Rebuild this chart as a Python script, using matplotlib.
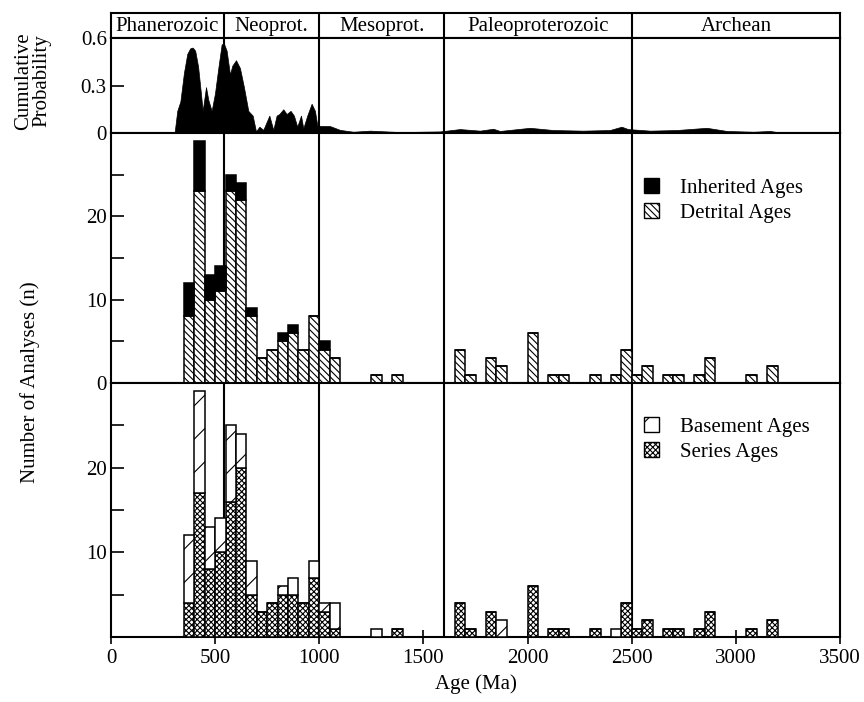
import numpy as np
import matplotlib
matplotlib.use("Agg")
import matplotlib.pyplot as plt
from matplotlib.patches import Patch

plt.rcParams['font.family'] = ['Liberation Serif', 'DejaVu Serif']
plt.rcParams['font.size'] = 15
plt.rcParams['hatch.linewidth'] = 0.8

## era bands ##
era_edges = [0, 541, 1000, 1600, 2500, 3500]
era_names = ["Phanerozoic", "Neoprot.", "Mesoprot.", "Paleoproterozoic", "Archean"]

## cumulative probability curve ##
cum_age = [0, 305, 318, 333, 350, 366, 380, 392, 404, 418, 430, 440, 456, 467, 483, 499, 515,
           531, 542, 555, 571, 582, 600, 619, 638, 659, 680, 696, 712, 731, 760, 779,
           795, 808, 827, 843, 862, 878, 894, 912, 923, 942, 963, 979, 990, 1003, 1051,
           1099, 1163, 1243, 1387, 1579, 1675, 1771, 1835, 1867, 2011, 2122, 2266, 2395,
           2451, 2482, 2588, 2716, 2860, 2956, 3084, 3164, 3228, 3500]
cum_prob = [0, 0, 0.14, 0.20, 0.38, 0.50, 0.535, 0.54, 0.52, 0.42, 0.27, 0.14, 0.29, 0.21, 0.14, 0.25, 0.41,
            0.56, 0.565, 0.52, 0.37, 0.425, 0.46, 0.41, 0.29, 0.14, 0.11, 0.01, 0.04, 0.02, 0.11, 0.02,
            0.11, 0.12, 0.15, 0.12, 0.14, 0.11, 0.04, 0.11, 0.03, 0.11, 0.185, 0.14, 0.05, 0.045, 0.044,
            0.02, 0.008, 0.015, 0.006, 0.01, 0.025, 0.015, 0.027, 0.013, 0.033, 0.019, 0.015, 0.019,
            0.04, 0.025, 0.015, 0.019, 0.033, 0.013, 0.008, 0.013, 0.0, 0.0]

## histogram bins (left edge, Ma), 50 Ma wide ##
bin_left = [350, 400, 450, 500, 550, 600, 650, 700, 750, 800, 850, 900, 950, 1000, 1050,
            1250, 1350, 1650, 1700, 1800, 1850, 2000, 2100, 2150, 2300, 2400, 2450, 2500,
            2550, 2650, 2700, 2800, 2850, 3050, 3150]
detrital = [8, 23, 10, 11, 23, 22, 8, 3, 4, 5, 6, 4, 8, 4, 3,
            1, 1, 4, 1, 3, 2, 6, 1, 1, 1, 1, 4, 1, 2, 1, 1, 1, 3, 1, 2]
inherited = [4, 6, 3, 3, 2, 2, 1, 0, 0, 1, 1, 0, 0, 1, 0,
             0, 0, 0, 0, 0, 0, 0, 0, 0, 0, 0, 0, 0, 0, 0, 0, 0, 0, 0, 0]
series = [4, 17, 8, 10, 16, 20, 5, 3, 4, 5, 5, 4, 7, 3, 1,
          0, 1, 4, 1, 3, 0, 6, 1, 1, 1, 0, 4, 1, 2, 1, 1, 1, 3, 1, 2]
basement = [8, 12, 5, 4, 9, 4, 4, 0, 0, 1, 2, 0, 2, 1, 3,
            1, 0, 0, 0, 0, 2, 0, 0, 0, 0, 1, 0, 0, 0, 0, 0, 0, 0, 0, 0]
bin_w = 50

det_hatch = '\\\\\\\\\\'
ser_hatch = 'xxxxxx'
bas_hatch = '/'

fig = plt.figure(figsize=(8.64, 7.02), dpi=100)
L, W = 0.1285, 0.8438
ax_head = fig.add_axes([L, 0.9459, W, 0.0356])
ax_top = fig.add_axes([L, 0.8105, W, 0.1353])
ax_mid = fig.add_axes([L, 0.4544, W, 0.3561])
ax_bot = fig.add_axes([L, 0.0926, W, 0.3618])

for ax in (ax_head, ax_top, ax_mid, ax_bot):
    ax.set_xlim(0, 3500)
    for s in ax.spines.values():
        s.set_linewidth(1.5)
    for b in era_edges[1:-1]:
        ax.axvline(b, color='black', lw=1.5, zorder=1)

# header
ax_head.set_ylim(0, 1)
ax_head.set_xticks([])
ax_head.set_yticks([])
for i, name in enumerate(era_names):
    ax_head.text((era_edges[i] + era_edges[i + 1]) / 2, 0.45, name,
                 ha='center', va='center', fontsize=15)

# cumulative probability
ax_top.fill_between(cum_age, cum_prob, color='black', lw=0.5, zorder=2)
ax_top.set_ylim(0, 0.6)
ax_top.set_yticks([0, 0.3, 0.6])
ax_top.set_yticklabels(['0', '0.3', '0.6'])
ax_top.set_xticks([])
ax_top.tick_params(axis='y', direction='in', length=9, width=1.2, pad=3)

# inherited / detrital
ax_mid.bar(bin_left, detrital, width=bin_w, align='edge', facecolor='white',
           edgecolor='black', hatch=det_hatch, lw=1.1, zorder=3)
ax_mid.bar(bin_left, inherited, width=bin_w, bottom=detrital, align='edge',
           facecolor='black', edgecolor='black', lw=1.1, zorder=3)
ax_mid.set_ylim(0, 30)
ax_mid.set_yticks([0, 10, 20])
ax_mid.set_yticks([5, 15, 25], minor=True)
ax_mid.set_xticks([])
ax_mid.tick_params(axis='y', which='both', direction='in', length=9, width=1.2, pad=3)
ax_mid.legend(handles=[Patch(facecolor='black', edgecolor='black'),
                       Patch(facecolor='white', edgecolor='black', hatch=det_hatch)],
              labels=['Inherited Ages', 'Detrital Ages'], loc='upper left',
              bbox_to_anchor=(0.705, 0.895), frameon=False, handlelength=0.75,
              handleheight=0.75, handletextpad=1.0, labelspacing=0.25, fontsize=15)

# basement / series
ax_bot.bar(bin_left, series, width=bin_w, align='edge', facecolor='white',
           edgecolor='black', hatch=ser_hatch, lw=1.1, zorder=3)
ax_bot.bar(bin_left, basement, width=bin_w, bottom=series, align='edge',
           facecolor='white', edgecolor='black', hatch=bas_hatch, lw=1.1, zorder=3)
ax_bot.set_ylim(0, 30)
ax_bot.set_yticks([10, 20])
ax_bot.set_yticks([5, 15, 25], minor=True)
ax_bot.tick_params(axis='y', which='both', direction='in', length=9, width=1.2, pad=3)
ax_bot.set_xticks(np.arange(0, 3501, 500))
ax_bot.tick_params(axis='x', direction='inout', length=10, width=1.2, pad=4)
ax_bot.set_xlabel('Age (Ma)', fontsize=15, labelpad=4)
ax_bot.legend(handles=[Patch(facecolor='white', edgecolor='black', hatch=bas_hatch),
                       Patch(facecolor='white', edgecolor='black', hatch=ser_hatch)],
              labels=['Basement Ages', 'Series Ages'], loc='upper left',
              bbox_to_anchor=(0.705, 0.94), frameon=False, handlelength=0.75,
              handleheight=0.75, handletextpad=1.0, labelspacing=0.25, fontsize=15)

fig.text(0.038, 0.885, 'Cumulative\nProbability', rotation=90, ha='center',
         va='center', fontsize=15, linespacing=1.0)
fig.text(0.035, 0.455, 'Number of Analyses (n)', rotation=90, ha='center',
         va='center', fontsize=15)

fig.savefig('out.png', dpi=100)
